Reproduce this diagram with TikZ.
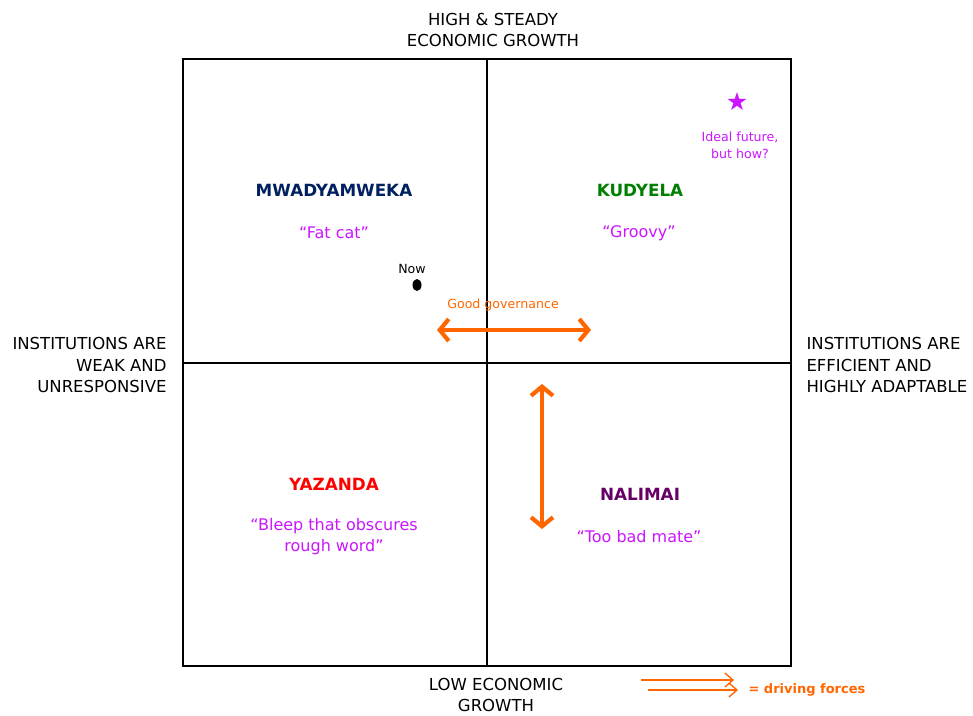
\documentclass[tikz,border=0pt]{standalone}
\usepackage{fontspec}
\setmainfont{DejaVu Sans}
\usetikzlibrary{arrows.meta}

\definecolor{namenavy}{RGB}{0,32,96}
\definecolor{namegreen}{RGB}{0,128,0}
\definecolor{namered}{RGB}{255,0,0}
\definecolor{namepurple}{RGB}{102,0,102}
\definecolor{quotepink}{RGB}{204,20,255}
\definecolor{forceorange}{RGB}{255,102,0}

\begin{document}
\begin{tikzpicture}[x=1pt,y=-1pt,
    axislabel/.style={font=\fontsize{16.5}{21.5}\selectfont},
    scenario/.style={font=\bfseries\fontsize{16.8}{20}\selectfont},
    nickname/.style={font=\fontsize{16}{21}\selectfont,text=quotepink,align=center},
    smalltext/.style={font=\fontsize{12.6}{17}\selectfont},
    force/.style={draw=forceorange,line width=4.2pt,{Straight Barb[length=9pt,width=22pt]}-{Straight Barb[length=9pt,width=22pt]}},
    legendarrow/.style={draw=forceorange,line width=1.4pt,-{Straight Barb[length=8pt,width=14pt]}}]
				\useasboundingbox (0,0) rectangle (973,715);
				
				\coordinate (NW) at (183,59);
				\coordinate (SE) at (791,666);
				\coordinate (Top) at (487,59);
				\coordinate (Bottom) at (487,666);
				\coordinate (Left) at (183,363);
				\coordinate (Right) at (791,363);
				
				\draw[line width=1.4pt] (NW) rectangle (SE);
				\draw[line width=2.8pt] (Top) -- (Bottom);
				\draw[line width=1.4pt] (Left) -- (Right);
				
				% axis ends
				\node (high) at (493,30) [axislabel,align=center] {HIGH \& STEADY\\ECONOMIC GROWTH};
				\node (low) at (496,695) [axislabel,align=center] {LOW ECONOMIC\\GROWTH};
				\node (weak) at (170,365) [axislabel,align=right,anchor=east] {INSTITUTIONS ARE\\WEAK AND\\UNRESPONSIVE};
				\node (efficient) at (803,365) [axislabel,align=left,anchor=west] {INSTITUTIONS ARE\\EFFICIENT AND\\HIGHLY ADAPTABLE};
				
				% the four scenarios
				\node (mwad) at (334,190) [scenario,text=namenavy] {MWADYAMWEKA};
				\node (mwadq) at (334,233) [nickname] {“Fat cat”};
				\node (kudy) at (640,190) [scenario,text=namegreen] {KUDYELA};
				\node (kudyq) at (639,233) [nickname] {“Groovy”};
				\node (yaza) at (334,484) [scenario,text=namered] {YAZANDA};
				\node (yazaq) at (334,537) [nickname] {“Bleep that obscures\\rough word”};
				\node (nali) at (640,494) [scenario,text=namepurple] {NALIMAI};
				\node (naliq) at (639,537) [nickname] {“Too bad mate”};
				
				% where we are and where we want to be
				\node (nowlabel) at (412,269) [smalltext] {Now};
				\fill (417,285) ellipse [x radius=4.5, y radius=6];
				\node (star) at (737,102) [text=quotepink,font=\fontsize{25}{25}\selectfont] {★};
				\node (ideal) at (740,145) [smalltext,text=quotepink,align=center] {Ideal future,\\but how?};
				
				% driving forces
				\node (govlabel) at (503,305) [smalltext,text=forceorange] {Good governance};
				\coordinate (govL) at (437,330);
				\coordinate (govR) at (591,330);
				\draw[force] (govL) -- (govR);
				\coordinate (upper) at (542,384);
				\coordinate (lower) at (542,529);
				\draw[force] (upper) -- (lower);
				
				% legend
				\coordinate (leg1a) at (641,680);
				\coordinate (leg1b) at (734,680);
				\coordinate (leg2a) at (648,690);
				\coordinate (leg2b) at (738,690);
				\draw[legendarrow] (leg1a) -- (leg1b);
				\draw[legendarrow] (leg2a) -- (leg2b);
				\node (legtext) at (745,690) [anchor=west,text=forceorange,font=\bfseries\fontsize{13}{15}\selectfont] {= driving forces};
\end{tikzpicture}
\end{document}
